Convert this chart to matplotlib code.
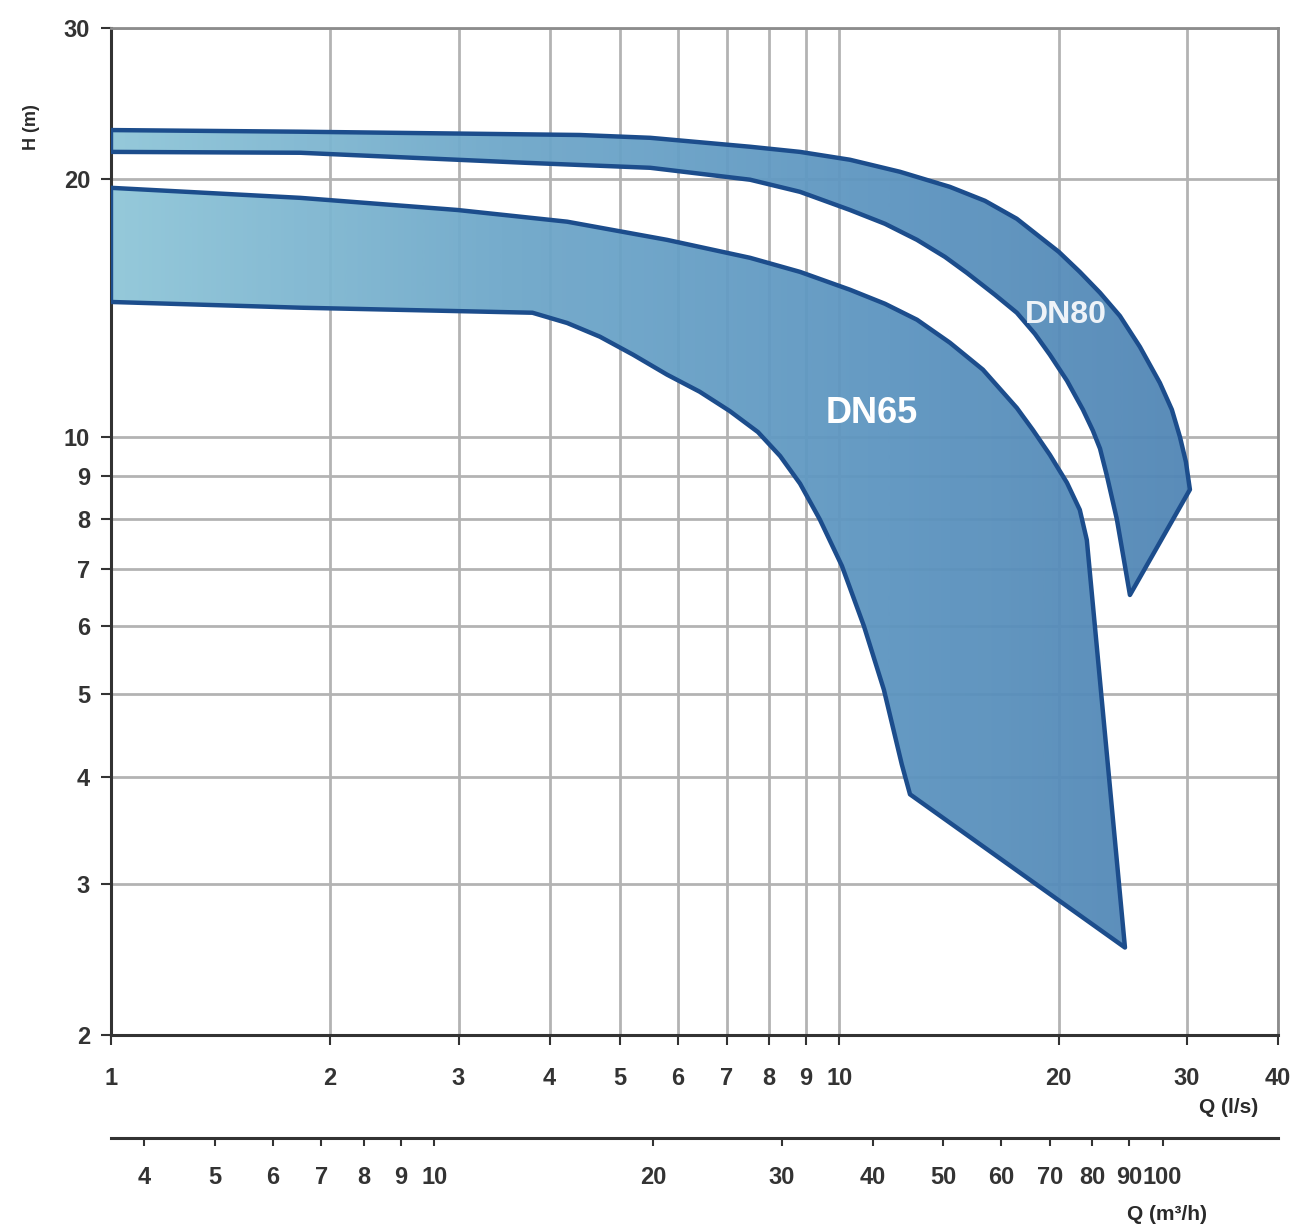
import numpy as np
import matplotlib
matplotlib.use("Agg")
import matplotlib.pyplot as plt
from matplotlib.patches import Polygon
from matplotlib.colors import LinearSegmentedColormap
from matplotlib.ticker import NullLocator, FixedLocator

plt.rcParams["font.family"] = ["Liberation Sans", "DejaVu Sans"]

# DN80 band (Q in l/s, H in m)
dn80_upper_q = [1.0, 1.82, 4.40, 5.50, 7.54, 8.83, 10.34, 12.11, 14.18, 15.84, 17.52, 20.01,
                21.38, 22.79, 24.27, 25.85, 27.54, 28.60, 29.34, 29.90, 30.28]
dn80_upper_h = [22.8, 22.7, 22.5, 22.33, 21.8, 21.5, 21.05, 20.38, 19.57, 18.85, 17.96, 16.43,
                15.57, 14.72, 13.83, 12.73, 11.55, 10.75, 9.99, 9.34, 8.67]
dn80_lower_q = [1.0, 1.82, 3.70, 5.50, 7.54, 8.83, 10.34, 11.55, 12.78, 13.96, 14.96, 16.35,
                17.52, 18.55, 19.45, 20.53, 21.59, 22.28, 22.79, 23.29, 24.04, 24.66, 25.05]
dn80_lower_h = [21.5, 21.45, 20.88, 20.6, 19.95, 19.31, 18.39, 17.72, 16.97, 16.21, 15.53, 14.64,
                13.95, 13.18, 12.46, 11.62, 10.75, 10.16, 9.68, 9.0, 8.0, 7.06, 6.53]

# DN65 band
dn65_upper_q = [1.0, 1.82, 2.99, 4.23, 5.80, 7.54, 8.83, 10.34, 11.55, 12.78, 14.18, 15.74,
                17.52, 18.43, 19.45, 20.53, 21.38, 21.86, 24.66]
dn65_upper_h = [19.52, 19.0, 18.39, 17.82, 16.97, 16.17, 15.57, 14.84, 14.29, 13.69, 12.87, 11.97,
                10.8, 10.18, 9.52, 8.83, 8.21, 7.57, 2.53]
dn65_lower_q = [1.0, 1.82, 3.79, 4.23, 4.69, 5.21, 5.80, 6.43, 7.07, 7.73, 8.29, 8.83, 9.40,
                10.08, 10.81, 11.51, 12.18, 12.50, 24.66]
dn65_lower_h = [14.36, 14.14, 13.95, 13.57, 13.08, 12.46, 11.81, 11.28, 10.71, 10.12, 9.49, 8.81, 8.0,
                7.06, 6.0, 5.06, 4.14, 3.82, 2.53]

q_ticks = [1, 2, 3, 4, 5, 6, 7, 8, 9, 10, 20, 30, 40]
h_ticks = [2, 3, 4, 5, 6, 7, 8, 9, 10, 20, 30]
m3h_ticks = [4, 5, 6, 7, 8, 9, 10, 20, 30, 40, 50, 60, 70, 80, 90, 100]
LS_TO_M3H = 3.6

fig = plt.figure(figsize=(12.96, 12.29), dpi=100)
ax = fig.add_axes([0.0856, 0.1579, 0.9005, 0.8193])
ax.set_xscale("log")
ax.set_yscale("log")

ax.xaxis.set_major_locator(FixedLocator(q_ticks))
ax.xaxis.set_minor_locator(NullLocator())
ax.yaxis.set_major_locator(FixedLocator(h_ticks))
ax.yaxis.set_minor_locator(NullLocator())
ax.set_xticklabels([str(t) for t in q_ticks], fontsize=17, fontweight="bold", color="#2a2a2a")
ax.set_yticklabels([str(t) for t in h_ticks], fontsize=17, fontweight="bold", color="#2a2a2a")
ax.tick_params(axis="x", direction="out", length=7, width=1.5, pad=16, colors="#333333")
ax.tick_params(axis="y", direction="out", length=7, width=1.5, pad=8, colors="#333333")
ax.grid(True, which="major", color="#b3b3b3", linewidth=2)
ax.set_axisbelow(True)

for side in ["left", "bottom"]:
    ax.spines[side].set_color("#333333")
    ax.spines[side].set_linewidth(2.2)
for side in ["top", "right"]:
    ax.spines[side].set_color("#8c8c8c")
    ax.spines[side].set_linewidth(2)

cmap = LinearSegmentedColormap.from_list(
    "band", ["#8fc6d8", "#6fa8ca", "#5d95c0", "#4e82b3"])
grad = np.linspace(0, 1, 512).reshape(1, -1)


def draw_band(uq, uh, lq, lh):
    verts = list(zip(uq, uh)) + list(zip(lq[::-1], lh[::-1]))
    clip = Polygon(verts, closed=True, transform=ax.transData,
                   facecolor="none", edgecolor="none")
    ax.add_patch(clip)
    im = ax.imshow(grad, cmap=cmap, aspect="auto", extent=[0, 1, 0, 1],
                   transform=ax.transAxes, alpha=0.95, zorder=2,
                   interpolation="bilinear")
    im.set_clip_path(clip)
    outline = Polygon(verts, closed=True, transform=ax.transData,
                      facecolor="none", edgecolor="#1c4d8c",
                      linewidth=3.2, joinstyle="round", zorder=3)
    ax.add_patch(outline)


draw_band(dn80_upper_q, dn80_upper_h, dn80_lower_q, dn80_lower_h)
draw_band(dn65_upper_q, dn65_upper_h, dn65_lower_q, dn65_lower_h)
ax.set_xlim(1, 40)
ax.set_ylim(2, 30)

ax.text(11.08, 10.63, "DN65", color="white", fontsize=26, fontweight="bold",
        ha="center", va="center", zorder=4)
ax.text(20.46, 13.87, "DN80", color="#eef3f8", fontsize=23, fontweight="bold",
        ha="center", va="center", zorder=4)

ax.text(-0.068, 0.902, "H (m)", transform=ax.transAxes, rotation=90,
        fontsize=13, fontweight="bold", ha="center", va="center", color="#2a2a2a")
ax.text(0.958, -0.072, "Q (l/s)", transform=ax.transAxes,
        fontsize=15, fontweight="bold", ha="center", va="center", color="#2a2a2a")

sec = ax.secondary_xaxis(-0.1023, functions=(lambda x: x * LS_TO_M3H,
                                             lambda x: x / LS_TO_M3H))
sec.xaxis.set_major_locator(FixedLocator(m3h_ticks))
sec.xaxis.set_minor_locator(NullLocator())
sec.set_xticklabels([str(t) for t in m3h_ticks], fontsize=17, fontweight="bold", color="#2a2a2a")
sec.tick_params(axis="x", direction="out", length=6, width=1.5, pad=14, colors="#333333")
sec.spines["bottom"].set_color("#333333")
sec.spines["bottom"].set_linewidth(2.2)
ax.text(0.905, -0.178, "Q (m\u00b3/h)", transform=ax.transAxes,
        fontsize=15, fontweight="bold", ha="center", va="center", color="#2a2a2a")

fig.savefig("out.png", dpi=100)
plt.close()
